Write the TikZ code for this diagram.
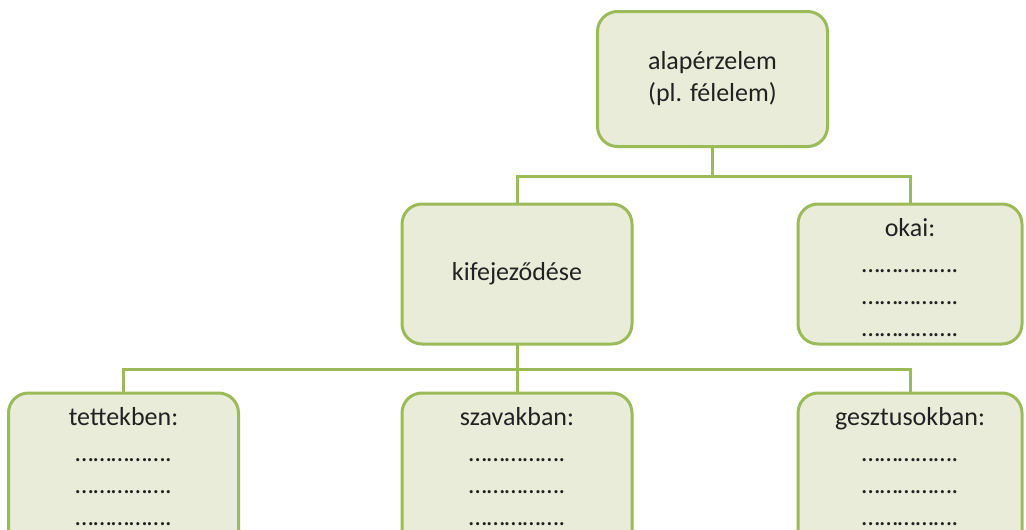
\documentclass[tikz,border=0pt]{standalone}
\usepackage{fontspec}
\setmainfont{Carlito}
\definecolor{boxfill}{HTML}{E9ECD9}
\definecolor{boxline}{HTML}{9BBB59}
\definecolor{txt}{HTML}{222222}
\tikzset{
  boxnode/.style={draw=boxline, fill=boxfill, line width=3pt, rounded corners=20pt,
    minimum width=230pt, inner sep=0pt, outer sep=0pt},
  label/.style={text=txt, inner sep=0pt, font=\fontsize{26}{32}\selectfont},
  conn/.style={draw=boxline, line width=3pt},
}
\newcommand{\dotline}{\char"2026\char"2026\char"2026\char"2026\char"2026.}
\begin{document}
\begin{tikzpicture}[x=1pt,y=-1pt]
\useasboundingbox (0,0) rectangle (1026,530);
\clip (0,0) rectangle (1026,530);
% boxes
\node[boxnode, minimum height=135pt] (top) at (712.5,79) {};
\node[boxnode, minimum height=140pt] (mid) at (517,274) {};
\node[boxnode, minimum height=140pt, minimum width=224pt] (okai) at (910,274) {};
\node[boxnode, minimum height=200pt] (tett) at (123.5,493) {};
\node[boxnode, minimum height=200pt] (szav) at (517,493) {};
\node[boxnode, minimum height=200pt, minimum width=224pt] (geszt) at (910,493) {};
% texts
\node[label, align=center] (topT) at (top.center) {alapérzelem\\(pl. félelem)};
\node[label] (midT) at (mid.center) {kifejeződése};
\node[label, anchor=base, yshift=-32pt] (okaiT) at (okai.north)
  {\begin{tabular}[t]{@{}c@{}}okai:\\[4pt]\dotline\\\dotline\\\dotline\end{tabular}};
\node[label, anchor=base, yshift=-32pt] (tettT) at (tett.north)
  {\begin{tabular}[t]{@{}c@{}}tettekben:\\[4pt]\dotline\\\dotline\\\dotline\end{tabular}};
\node[label, anchor=base, yshift=-32pt] (szavT) at (szav.north)
  {\begin{tabular}[t]{@{}c@{}}szavakban:\\[4pt]\dotline\\\dotline\\\dotline\end{tabular}};
\node[label, anchor=base, yshift=-32pt] (gesztT) at (geszt.north)
  {\begin{tabular}[t]{@{}c@{}}gesztusokban:\\[4pt]\dotline\\\dotline\\\dotline\end{tabular}};
% connectors
\coordinate (j1) at (712.5,176);
\coordinate (j2) at (517,369);
\draw[conn] (top.south) -- (j1);
\draw[conn] (mid.north) |- (j1) -| (okai.north);
\draw[conn] (mid.south) -- (j2);
\draw[conn] (tett.north) |- (j2) -| (geszt.north);
\draw[conn] (j2) -- (szav.north);
\end{tikzpicture}
\end{document}
